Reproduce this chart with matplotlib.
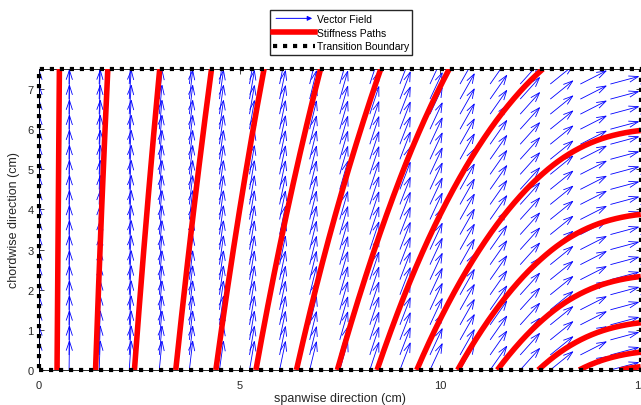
import numpy as np
import matplotlib
matplotlib.use('Agg')
import matplotlib.pyplot as plt
from matplotlib.collections import LineCollection
from matplotlib.lines import Line2D
from matplotlib.patches import FancyArrowPatch
from matplotlib.legend_handler import HandlerBase

plt.rcParams['font.family'] = ['Liberation Sans', 'DejaVu Sans']

# quiver grid (cm)
x_grid = np.linspace(0, 15, 21)
y_grid = np.linspace(0, 7.5, 21)
# fibre angle of each column of the field, degrees from spanwise axis
theta_deg = [90.0, 89.3, 87.8, 86.0, 84.6, 83.4, 82.0, 80.3, 78.3, 76.4, 74.0,
             71.8, 69.0, 65.0, 60.5, 55.0, 48.0, 39.0, 27.0, 15.0, 6.0]
# where each stiffness path leaves the root edge (y = 0)
path_start_x = [0.45, 1.41, 2.38, 3.41, 4.41, 5.41, 6.42, 7.44,
                8.43, 9.42, 10.44, 11.43, 12.45, 13.47, 14.49]

x_ticks = [0, 5, 10, 15]
y_ticks = [0, 1, 2, 3, 4, 5, 6, 7]


class ArrowHandler(HandlerBase):
    def create_artists(self, legend, orig, xd, yd, w, h, fontsize, trans):
        a = FancyArrowPatch((xd, yd + h / 2), (xd + w, yd + h / 2),
                            arrowstyle='-|>', mutation_scale=7, color='blue',
                            lw=0.7, transform=trans)
        return [a]


def trace_path(x0, ds=0.01):
    # follow the field direction from (x0, 0) until the panel edge
    th_rad = np.deg2rad(theta_deg)
    xs, ys = [x0], [0.0]
    x, y = x0, 0.0
    while x < 15 and y < 7.5:
        t1 = np.interp(x, x_grid, th_rad)
        t2 = np.interp(x + 0.5 * ds * np.cos(t1), x_grid, th_rad)
        x += ds * np.cos(t2)
        y += ds * np.sin(t2)
        xs.append(x)
        ys.append(y)
    return xs, ys


fig = plt.figure(figsize=(6.41, 4.06), dpi=100)
ax = fig.add_axes([39 / 641, 35 / 406, 601.5 / 641, 301 / 406])

X, Y = np.meshgrid(x_grid, y_grid)
th = np.deg2rad(np.array(theta_deg))[None, :] * np.ones_like(X)
L = 0.72
U = L * np.cos(th)
V = L * np.sin(th)

# matlab style quiver: shaft + open head
a, b = 0.33, 0.33
tx, ty = X + U, Y + V
segs = []
for x0, y0, x1, y1, u, v in zip(X.ravel(), Y.ravel(), tx.ravel(), ty.ravel(), U.ravel(), V.ravel()):
    segs.append([(x0, y0), (x1, y1)])
    segs.append([(x1 - a * (u + b * v), y1 - a * (v - b * u)), (x1, y1),
                 (x1 - a * (u - b * v), y1 - a * (v + b * u))])
ax.add_collection(LineCollection(segs, colors='blue', linewidths=0.6, zorder=2))

# stiffness paths
for x0 in path_start_x:
    px, py = trace_path(x0)
    ax.plot(px, py, color='red', lw=4, solid_capstyle='butt', zorder=3)

# transition boundary
ax.plot([0, 15, 15, 0, 0], [0, 0, 7.5, 7.5, 0], color='black', lw=3,
        linestyle=(0, (1, 1.4)), clip_on=False, zorder=5)

ax.set_xlim(0, 15)
ax.set_ylim(0, 7.5)
ax.set_xticks(x_ticks)
ax.set_yticks(y_ticks)
ax.tick_params(direction='in', length=3.5, width=0.6, top=True, right=True,
               labelsize=8, colors='#262626')
ax.tick_params(axis='x', pad=7)
ax.tick_params(axis='y', pad=4)
for s in ax.spines.values():
    s.set_linewidth(0.6)
    s.set_color('black')
ax.set_xlabel('spanwise direction (cm)', fontsize=9, color='#262626', labelpad=1.5)
ax.set_ylabel('chordwise direction (cm)', fontsize=9, color='#262626', labelpad=5)

h_vec = Line2D([], [], color='blue')
h_path = Line2D([], [], color='red', lw=4)
h_bnd = Line2D([], [], color='black', lw=3, linestyle=(0, (1, 1.4)))
fig.legend([h_vec, h_path, h_bnd], ['Vector Field', 'Stiffness Paths', 'Transition Boundary'],
           handler_map={h_vec: ArrowHandler()}, loc='upper center',
           bbox_to_anchor=(0.532, 0.972), fontsize=7.5, frameon=True, fancybox=False,
           edgecolor='#262626', framealpha=1, handlelength=4.0, handletextpad=0.15,
           labelspacing=0.35, borderpad=0.35, borderaxespad=0)

fig.savefig('out.png', dpi=100)
